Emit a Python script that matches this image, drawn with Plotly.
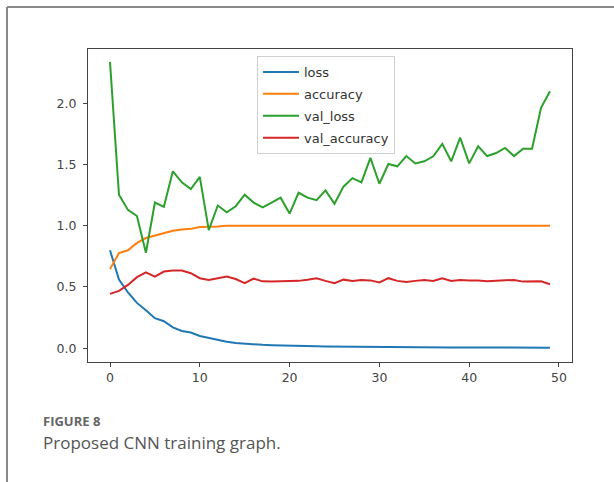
import plotly.graph_objects as go

epochs = list(range(50))

loss = [0.80, 0.56, 0.455, 0.37, 0.31, 0.245, 0.22, 0.17, 0.14, 0.128,
        0.10, 0.082, 0.065, 0.052, 0.042, 0.035, 0.030, 0.027, 0.024, 0.021,
        0.020, 0.018, 0.016, 0.015, 0.014, 0.013, 0.012, 0.011, 0.010, 0.010,
        0.009, 0.009, 0.008, 0.008, 0.008, 0.007, 0.007, 0.007, 0.006, 0.006,
        0.006, 0.006, 0.005, 0.005, 0.005, 0.005, 0.005, 0.004, 0.004, 0.004]

accuracy = [0.646, 0.777, 0.80, 0.86, 0.90, 0.92, 0.935, 0.96, 0.97, 0.975,
            0.99, 0.99, 0.995, 1.0, 1.0, 1.0, 1.0, 1.0, 1.0, 1.0,
            1.0, 1.0, 1.0, 1.0, 1.0, 1.0, 1.0, 1.0, 1.0, 1.0,
            1.0, 1.0, 1.0, 1.0, 1.0, 1.0, 1.0, 1.0, 1.0, 1.0,
            1.0, 1.0, 1.0, 1.0, 1.0, 1.0, 1.0, 1.0, 1.0, 1.0]

val_loss = [2.34, 1.254, 1.13, 1.08, 0.78, 1.19, 1.155, 1.445, 1.355, 1.30,
            1.40, 0.965, 1.166, 1.11, 1.16, 1.254, 1.19, 1.15, 1.19, 1.23,
            1.10, 1.27, 1.23, 1.21, 1.29, 1.18, 1.32, 1.39, 1.355, 1.555,
            1.344, 1.505, 1.486, 1.57, 1.51, 1.527, 1.568, 1.67, 1.527, 1.72,
            1.51, 1.65, 1.57, 1.595, 1.636, 1.57, 1.63, 1.63, 1.965, 2.10]

val_accuracy = [0.444, 0.468, 0.517, 0.58, 0.62, 0.585, 0.626, 0.635, 0.635, 0.613,
                0.572, 0.558, 0.572, 0.585, 0.565, 0.531, 0.568, 0.546, 0.544, 0.546,
                0.55, 0.55, 0.56, 0.572, 0.55, 0.531, 0.56, 0.55, 0.558, 0.554,
                0.537, 0.572, 0.55, 0.54, 0.55, 0.558, 0.55, 0.572, 0.55, 0.558,
                0.554, 0.554, 0.546, 0.55, 0.55, 0.558, 0.544, 0.544, 0.546, 0.523]

series_names = ["loss", "accuracy", "val_loss", "val_accuracy"]
series_values = [loss, accuracy, val_loss, val_accuracy]
colors = ["#1f77b4", "#ff7f0e", "#2ca02c", "#d62728"]

x_ticks = [0, 10, 20, 30, 40, 50]
y_ticks = [0.0, 0.5, 1.0, 1.5, 2.0]

fig = go.Figure()
for name, vals, c in zip(series_names, series_values, colors):
    fig.add_trace(go.Scatter(x=epochs, y=vals, mode="lines", name=name,
                             legendgroup=name,
                             line=dict(color=c, width=2)))

# plot area in pixels
L, R, T, B = 88, 572, 49, 362
W, H = 614, 482
pw, ph = R - L, B - T

def px(xp):
    return (xp - L) / pw

def py(yp):
    return (B - yp) / ph

axis_common = dict(showline=True, mirror=True, linecolor="#444", linewidth=1,
                   ticks="outside", ticklen=4, tickcolor="#444",
                   showgrid=False, zeroline=False,
                   tickfont=dict(family="DejaVu Sans", size=12.5, color="#444"))

fig.update_layout(
    width=W, height=H,
    margin=dict(l=L, r=W - R, t=T, b=H - B),
    paper_bgcolor="white", plot_bgcolor="white",
    xaxis=dict(range=[-2.45, 51.45], tickvals=x_ticks, **axis_common),
    yaxis=dict(range=[-0.113, 2.445], tickvals=y_ticks, tickformat=".1f",
               ticklabelstandoff=4, **axis_common),
    legend=dict(x=px(257), y=py(56), xanchor="left", yanchor="top",
                bgcolor="white", bordercolor="#d0d0d0", borderwidth=1,
                font=dict(family="DejaVu Sans", size=13, color="#333"),
                tracegroupgap=2, itemwidth=36),
    showlegend=True,
    shapes=[
        dict(type="line", xref="paper", yref="paper",
             x0=px(7), x1=px(614), y0=py(7), y1=py(7),
             line=dict(color="#888", width=2)),
        dict(type="line", xref="paper", yref="paper",
             x0=px(7), x1=px(7), y0=py(7), y1=py(482),
             line=dict(color="#888", width=2)),
    ],
    annotations=[
        dict(text="<b>FIGURE 8</b>", xref="paper", yref="paper", x=px(41), y=py(421),
             xanchor="left", yanchor="middle", showarrow=False,
             font=dict(family="Open Sans", size=13, color="#666")),
        dict(text="Proposed CNN training graph.", xref="paper", yref="paper",
             x=px(41), y=py(442.5), xanchor="left", yanchor="middle", showarrow=False,
             font=dict(family="Open Sans", size=17, color="#555")),
    ],
)

fig.write_html("out.html")
